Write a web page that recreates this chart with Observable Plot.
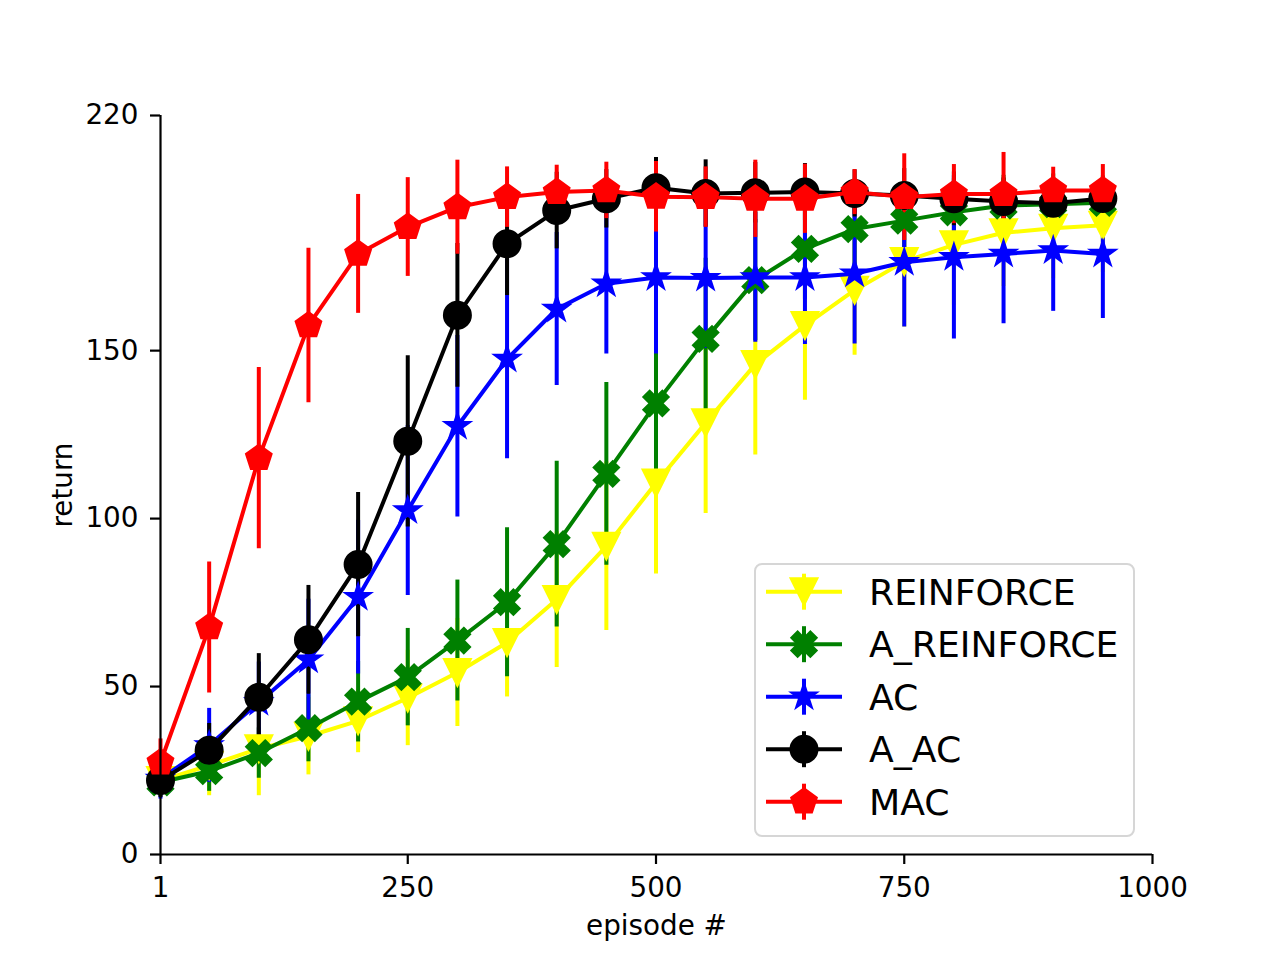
<!DOCTYPE html>
<html>
<head>
<meta charset="utf-8">
<script src="https://cdn.jsdelivr.net/npm/d3@7"></script>
<script src="https://cdn.jsdelivr.net/npm/@observablehq/plot@0.6"></script>
<style>
  html, body { margin: 0; padding: 0; background: #fff; overflow: hidden; }
  #wrap { position: relative; width: 1280px; height: 960px; font-family: "DejaVu Sans", sans-serif; }
  #legend { position: absolute; left: 754px; top: 563px; width: 381px; height: 274px; box-sizing: border-box;
            border: 2.5px solid #d6d6d6; border-radius: 8px; background: rgba(255,255,255,0.8); }
  #legend svg { position: absolute; left: -2.5px; top: -2.5px; overflow: visible; }
</style>
</head>
<body>
<div id="wrap"><div id="legend"></div></div>
<script>
// ---- data ----
const episodes = [1, 50, 100, 150, 200, 250, 300, 350, 400, 450, 500, 550, 600, 650, 700, 750, 800, 850, 900, 950];

const reinforce    = [22, 26.5, 31.5, 35.2, 39.8, 46.6, 54.2, 63.1, 75.9, 91.8, 110.6, 128.5, 145.9, 157.5, 168, 176.5, 181.5, 185.1, 186.4, 187.3];
const reinforceErr = [5, 9, 14, 11.5, 9.5, 14.2, 16.1, 16.2, 20.2, 25.1, 27.1, 27, 27, 22.3, 19.4, 19.5, 18, 16, 15, 14];

const aReinforce    = [21.5, 24.8, 30.2, 37.6, 45.5, 52.8, 63.7, 75.1, 92.4, 113.3, 134.3, 153.5, 171, 180.3, 186.2, 188.7, 191.2, 193.2, 193.6, 194];
const aReinforceErr = [4, 6, 7.5, 10, 12, 14.5, 18, 22.2, 24.7, 27.2, 24, 24, 18, 15, 12, 11, 10, 9, 9, 8];

const ac    = [22.5, 32.5, 45.3, 58, 76.6, 102.4, 127.5, 147.5, 162.4, 169.9, 171.8, 171.6, 171.8, 171.8, 172.9, 176.3, 177.8, 178.8, 179.8, 178.8];
const acErr = [6, 11, 12, 18, 22.9, 25.3, 27, 29.7, 22.8, 20.9, 22.8, 21, 19.3, 20, 20.9, 19.3, 24.3, 20.8, 18.1, 19.2];

const aAc    = [22, 31, 46.8, 63.9, 86.3, 123, 160.5, 181.8, 191.7, 195.2, 198.5, 196.8, 197, 197.2, 196.8, 196.2, 195.2, 194.4, 193.9, 195.3];
const aAcErr = [5, 8, 13, 16.2, 21.5, 25.5, 21.4, 15.4, 11.4, 8.7, 9, 10, 9, 8.5, 7, 8, 8, 7, 7, 6];

const mac    = [27.4, 67.6, 118, 157.5, 178.8, 186.8, 192.7, 195.7, 197.2, 197.7, 195.8, 195.7, 195.2, 195.2, 197.2, 195.7, 196.6, 196.6, 197.7, 197.7];
const macErr = [7, 19.5, 27, 23, 17.7, 14.7, 14, 9, 8, 8.4, 10.5, 9, 11.5, 10.3, 6.7, 12.9, 8.8, 12.4, 6.9, 7.7];

const seriesNames  = ["REINFORCE", "A_REINFORCE", "AC", "A_AC", "MAC"];
const seriesColors = ["#ffff00", "#008000", "#0000ff", "#000000", "#ff0000"];
const seriesShapes = ["triangleDown", "xFilled", "star", "circle", "pentagon"];
const seriesValues = [reinforce, aReinforce, ac, aAc, mac];
const seriesErrors = [reinforceErr, aReinforceErr, acErr, aAcErr, macErr];

const xTicks = [1, 250, 500, 750, 1000];
const yTicks = [0, 50, 100, 150, 220];

// ---- matplotlib-like marker symbols ----
function makeSymbol(kind) {
  return {
    draw(ctx, size) {
      const h = Math.sqrt(size / Math.PI);
      if (kind === "circle") { ctx.moveTo(h, 0); ctx.arc(0, 0, h, 0, 2 * Math.PI); ctx.closePath(); return; }
      let pts = [];
      if (kind === "triangleDown") pts = [[0, h], [-h, -h], [h, -h]];
      else if (kind === "xFilled") {
        const base = [[-1,-3],[1,-3],[1,-1],[3,-1],[3,1],[1,1],[1,3],[-1,3],[-1,1],[-3,1],[-3,-1],[-1,-1]];
        const c = Math.SQRT1_2;
        pts = base.map(([x, y]) => { x = x / 3 * h; y = y / 3 * h; return [c * x - c * y, c * x + c * y]; });
      } else if (kind === "star") {
        for (let i = 0; i < 10; i++) { const r = i % 2 ? 0.381966 * h : h; const a = Math.PI / 2 + i * Math.PI / 5; pts.push([r * Math.cos(a), -r * Math.sin(a)]); }
      } else if (kind === "pentagon") {
        for (let i = 0; i < 5; i++) { const a = Math.PI / 2 + i * 2 * Math.PI / 5; pts.push([h * Math.cos(a), -h * Math.sin(a)]); }
      }
      ctx.moveTo(pts[0][0], pts[0][1]);
      for (const p of pts.slice(1)) ctx.lineTo(p[0], p[1]);
      ctx.closePath();
    }
  };
}

const R = 13.5;
const tables = seriesNames.map((name, i) =>
  episodes.map((x, j) => ({series: name, x, y: seriesValues[i][j], lo: seriesValues[i][j] - seriesErrors[i][j], hi: seriesValues[i][j] + seriesErrors[i][j]}))
);

const errMarks = tables.map((t, i) => Plot.ruleX(t, {x: "x", y1: "lo", y2: "hi", stroke: seriesColors[i], strokeWidth: 4}));
const lineMarks = tables.flatMap((t, i) => [
  Plot.line(t, {x: "x", y: "y", stroke: seriesColors[i], strokeWidth: 4, strokeLinejoin: "round"}),
  Plot.dot(t, {x: "x", y: "y", symbol: makeSymbol(seriesShapes[i]), r: R, fill: seriesColors[i], stroke: seriesColors[i], strokeWidth: 2})
]);

const chart = Plot.plot({
  width: 1280, height: 960,
  marginLeft: 160, marginRight: 128, marginTop: 115, marginBottom: 106,
  style: {fontFamily: "DejaVu Sans", fontSize: "27.8px", color: "#000", background: "white"},
  x: {type: "linear", domain: [1, 1000]},
  y: {type: "linear", domain: [0, 220]},
  marks: [
    ...errMarks,
    ...lineMarks,
    Plot.ruleX([1], {stroke: "#000", strokeWidth: 2.2}),
    Plot.ruleY([0], {stroke: "#000", strokeWidth: 2.2}),
    Plot.axisX({ticks: xTicks, tickSize: 10, tickPadding: 13, tickFormat: d => String(d), label: null, strokeWidth: 2.2, fill: "#000"}),
    Plot.axisY({ticks: yTicks, tickSize: 10, tickPadding: 12, tickFormat: d => String(d), label: null, strokeWidth: 2.2, fill: "#000"}),
    Plot.text(["return"], {frameAnchor: "left", dx: -97, rotate: -90, textAnchor: "middle", lineAnchor: "middle", fill: "#000"}),
    Plot.text(["episode #"], {frameAnchor: "bottom", dy: 72, textAnchor: "middle", lineAnchor: "middle", fill: "#000"})
  ]
});
document.getElementById("wrap").prepend(chart);

// ---- legend (inside the axes, lower right) ----
const leg = d3.select("#legend").append("svg").attr("width", 381).attr("height", 274);
seriesNames.forEach((name, i) => {
  const cy = 28.7 + i * 52.5;
  const g = leg.append("g");
  g.append("line").attr("x1", 12).attr("x2", 88).attr("y1", cy).attr("y2", cy)
    .attr("stroke", seriesColors[i]).attr("stroke-width", 4);
  g.append("line").attr("x1", 50).attr("x2", 50).attr("y1", cy - 18).attr("y2", cy + 18)
    .attr("stroke", seriesColors[i]).attr("stroke-width", 4);
  const p = d3.path();
  makeSymbol(seriesShapes[i]).draw(p, R * R * Math.PI);
  g.append("path").attr("d", p.toString()).attr("transform", `translate(50,${cy})`)
    .attr("fill", seriesColors[i]).attr("stroke", seriesColors[i]).attr("stroke-width", 2);
  g.append("text").attr("x", 115).attr("y", cy + 13.1).attr("font-size", 36.2)
    .attr("font-family", "DejaVu Sans").attr("fill", "#000").text(name);
});
</script>
</body>
</html>
